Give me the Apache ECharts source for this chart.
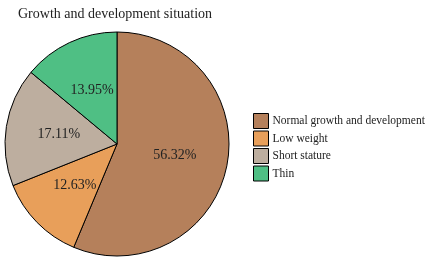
<!DOCTYPE html>
<html>
<head>
<meta charset="utf-8">
<script src="https://cdn.jsdelivr.net/npm/echarts@6/dist/echarts.min.js"></script>
<style>
  html, body { margin: 0; padding: 0; background: #fff; }
  #chart { width: 432px; height: 261px; }
</style>
</head>
<body>
<div id="chart"></div>
<script>
  // data
  var categories = ['Normal growth and development', 'Low weight', 'Short stature', 'Thin'];
  var values = [56.32, 12.63, 17.11, 13.95];
  var colors = ['#B5805B', '#E89F5A', '#BDAE9F', '#4FBF84'];

  var font = '"Liberation Serif", "Times New Roman", serif';
  var myChart = echarts.init(document.getElementById('chart'));

  var option = {
    backgroundColor: '#fff',
    animation: false,
    title: {
      text: 'Growth and development situation',
      left: 13,
      top: 2,
      textStyle: { fontFamily: font, fontSize: 14, fontWeight: 'normal', color: '#222' }
    },
    legend: {
      orient: 'vertical',
      left: 248,
      top: 108,
      itemWidth: 15,
      itemHeight: 15,
      itemGap: 1.5,
      icon: 'rect',
      itemStyle: { borderColor: '#000', borderWidth: 1 },
      textStyle: { fontFamily: font, fontSize: 11.5, color: '#222', padding: [0, 0, 0, -1] },
      data: categories
    },
    color: colors,
    series: [{
      type: 'pie',
      center: [117, 144],
      radius: 112,
      startAngle: 90,
      clockwise: true,
      itemStyle: { borderColor: '#000', borderWidth: 1 },
      label: {
        position: 'inside',
        fontFamily: font,
        fontSize: 14,
        color: '#222',
        formatter: function (p) { return p.value.toFixed(2) + '%'; }
      },
      labelLine: { show: false },
      data: categories.map(function (c, i) {
        return { name: c, value: values[i] };
      })
    }]
  };

  myChart.setOption(option);
</script>
</body>
</html>
